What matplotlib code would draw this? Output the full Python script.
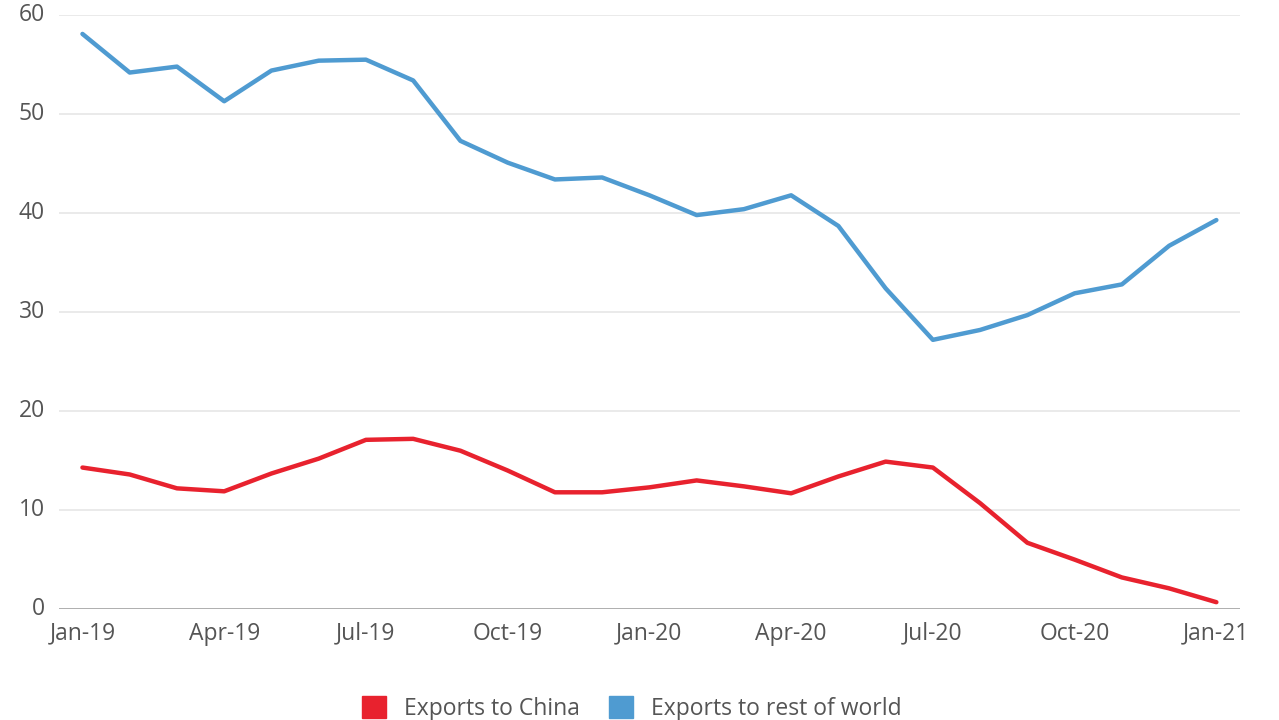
import matplotlib.pyplot as plt
from matplotlib.patches import Patch

# monthly values, Jan-19 .. Jan-21
months = ['Jan-19', 'Feb-19', 'Mar-19', 'Apr-19', 'May-19', 'Jun-19', 'Jul-19', 'Aug-19',
          'Sep-19', 'Oct-19', 'Nov-19', 'Dec-19', 'Jan-20', 'Feb-20', 'Mar-20', 'Apr-20',
          'May-20', 'Jun-20', 'Jul-20', 'Aug-20', 'Sep-20', 'Oct-20', 'Nov-20', 'Dec-20', 'Jan-21']
china = [14.3, 13.6, 12.2, 11.9, 13.7, 15.2, 17.1, 17.2, 16.0, 14.0, 11.8, 11.8, 12.3,
         13.0, 12.4, 11.7, 13.4, 14.9, 14.3, 10.7, 6.7, 5.0, 3.2, 2.1, 0.7]
rest = [58.1, 54.2, 54.8, 51.3, 54.4, 55.4, 55.5, 53.4, 47.3, 45.1, 43.4, 43.6, 41.8,
        39.8, 40.4, 41.8, 38.7, 32.4, 27.2, 28.2, 29.7, 31.9, 32.8, 36.7, 39.3]
tick_pos = [0, 3, 6, 9, 12, 15, 18, 21, 24]

red = '#e8222e'
blue = '#4f9bd1'
grey = '#555555'

plt.rcParams['font.family'] = ['Open Sans', 'DejaVu Sans']

fig = plt.figure(figsize=(12.79, 7.2), dpi=100)
ax = fig.add_axes([0.046, 0.154, 0.9235, 0.825])

x = list(range(len(months)))
ax.plot(x, china, color=red, lw=3.2, solid_capstyle='round', solid_joinstyle='round', zorder=3)
ax.plot(x, rest, color=blue, lw=3.2, solid_capstyle='round', solid_joinstyle='round', zorder=3)

ax.set_xlim(-0.5, 24.5)
ax.set_ylim(0, 60)
ax.set_yticks([0, 10, 20, 30, 40, 50, 60])
ax.set_xticks(tick_pos)
ax.set_xticklabels([months[i] for i in tick_pos])
ax.grid(axis='y', color='#e6e6e6', lw=1.2)
ax.axhline(0, color='#aaaaaa', lw=1.3, zorder=2)
for s in ax.spines.values():
    s.set_visible(False)
ax.tick_params(length=0, labelsize=16.5, labelcolor=grey)
ax.tick_params(axis='x', pad=9)
ax.tick_params(axis='y', pad=10)
for lab in ax.get_yticklabels():
    lab.set_verticalalignment('center')

handles = [Patch(color=red, label='Exports to China'),
           Patch(color=blue, label='Exports to rest of world')]
fig.legend(handles=handles, loc='center', bbox_to_anchor=(0.494, 0.016), ncol=2,
           frameon=False, fontsize=16.5, labelcolor=grey, handlelength=1.05,
           handleheight=1.05, handletextpad=0.75, columnspacing=1.3)

fig.savefig('out.png', dpi=100)
